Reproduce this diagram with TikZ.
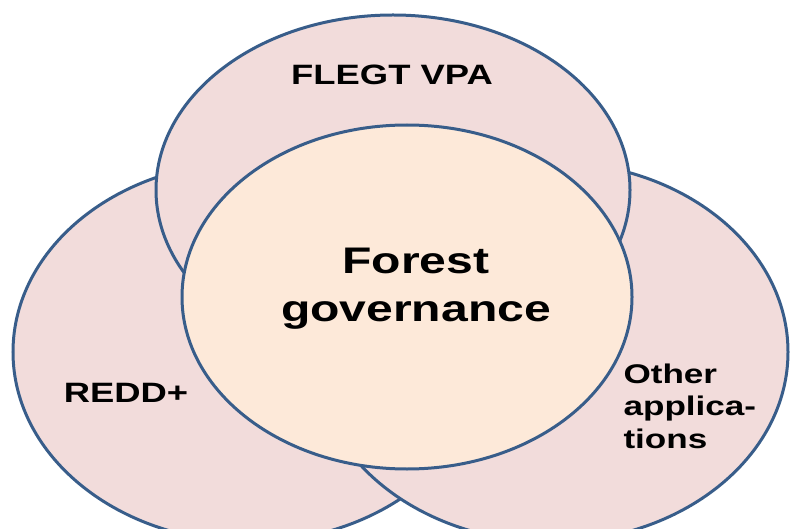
\documentclass[tikz,border=0pt]{standalone}
\usepackage{fontspec}
\setmainfont{Liberation Sans}[FakeStretch=1.3]
\usetikzlibrary{shapes.geometric}
\definecolor{rosa}{HTML}{F2DCDB}
\definecolor{pessego}{HTML}{FDE9D9}
\definecolor{borda}{HTML}{385D8A}
\begin{document}
\begin{tikzpicture}[x=1pt, y=-1pt]

		\useasboundingbox (0., 0.) rectangle (792., 529.);

		% Imagem 1

		\draw node[ellipse, draw=borda, fill=rosa, line width=3pt, inner sep=0pt, minimum width=474pt, minimum height=380pt] (no1) at (250., 352.) {} ;

		\draw node[ellipse, draw=borda, fill=rosa, line width=3pt, inner sep=0pt, minimum width=474pt, minimum height=380pt] (no2) at (551., 352.) {} ;

		\draw node[ellipse, draw=borda, fill=rosa, line width=3pt, inner sep=0pt, minimum width=474pt, minimum height=350pt] (no3) at (393., 190.) {} ;

		\draw node[ellipse, draw=borda, fill=pessego, line width=3pt, inner sep=0pt, minimum width=450pt, minimum height=344pt] (no4) at (407., 297.) {} ;

		\draw node[font=\fontsize{28}{36}\selectfont\bfseries] (no5) at (392., 75.) {FLEGT VPA} ;

		\draw node[font=\fontsize{37}{48}\selectfont\bfseries, align=center] (no6) at (416., 289.) {Forest\\governance} ;

		\draw node[font=\fontsize{28}{36}\selectfont\bfseries] (no7) at (126., 393.) {REDD+} ;

		\draw node[font=\fontsize{27}{32.5}\selectfont\bfseries, align=left, anchor=west] (no8) at (620., 406.) {Other\\applica-\\tions} ;

	\end{tikzpicture}
\end{document}
